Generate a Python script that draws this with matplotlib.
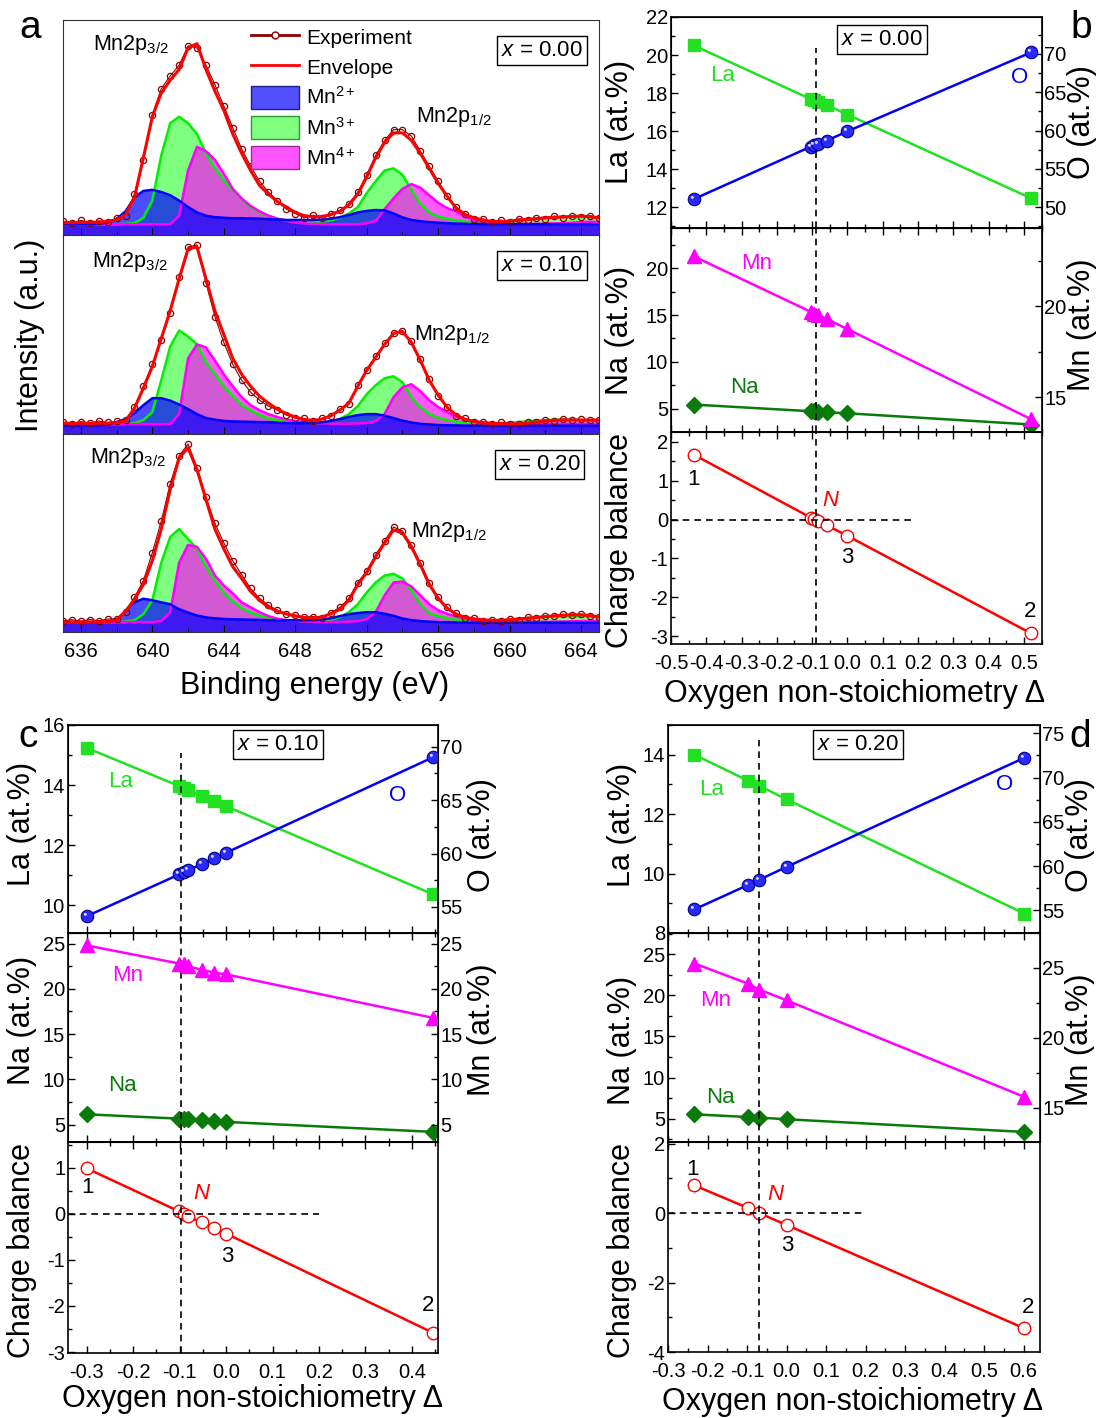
import matplotlib
matplotlib.use("Agg")
import matplotlib.pyplot as plt
import numpy as np
from matplotlib.lines import Line2D
from matplotlib.patches import Patch
from matplotlib.path import Path
from matplotlib.ticker import MultipleLocator, FormatStrFormatter

plt.rcParams["font.family"] = ["Liberation Sans", "DejaVu Sans"]
plt.rcParams["mathtext.fontset"] = "custom"
plt.rcParams["mathtext.rm"] = "Liberation Sans"
plt.rcParams["mathtext.it"] = "Liberation Sans:italic"
plt.rcParams["mathtext.bf"] = "Liberation Sans:bold"
plt.rcParams["axes.unicode_minus"] = False

W, H = 1103, 1418

# ---- Mn2p XPS spectra (binding energy grid, 0.5 eV) ----
energy = np.arange(635.0, 665.01, 0.5)

exp_000 = [
    6.5, 5.5, 6.8, 5.6, 6.6, 6.0, 7.8, 9.0, 19.0, 35.0,
    56.0, 68.0, 74.0, 79.0, 88.0, 87.0, 79.0, 70.0, 60.0, 50.0,
    40.0, 32.0, 25.0, 20.0, 16.0, 12.0, 10.0, 8.0, 9.2, 8.0,
    10.0, 11.5, 14.5, 20.0, 28.0, 37.0, 44.0, 49.0, 49.0, 46.0,
    39.0, 32.0, 25.0, 18.0, 13.0, 10.0, 7.5, 7.5, 6.0, 7.0,
    6.0, 7.5, 6.8, 8.0, 7.5, 8.8, 8.0, 9.0, 8.5, 9.0, 8.0,
]
env_000 = [
    5.8, 5.8, 5.9, 5.9, 6.0, 6.3, 7.0, 9.5, 17.5, 36.0,
    55.0, 66.0, 72.0, 77.0, 87.0, 89.0, 77.0, 67.0, 58.0, 47.0,
    38.0, 30.0, 23.0, 19.0, 15.5, 13.0, 10.5, 9.0, 8.5, 8.6,
    9.5, 11.0, 14.0, 19.0, 27.0, 36.0, 43.0, 47.5, 47.5, 44.0,
    38.0, 31.0, 24.0, 18.0, 12.5, 9.5, 8.0, 7.0, 6.3, 6.2,
    6.5, 7.0, 7.3, 7.6, 8.0, 8.2, 8.4, 8.6, 8.8, 8.5, 8.0,
]
mn2_000 = [
    5.0, 5.0, 5.0, 5.0, 5.2, 5.8, 7.5, 11.0, 17.5, 20.5,
    21.0, 20.0, 18.5, 16.0, 13.0, 10.5, 9.0, 8.3, 8.0, 7.8,
    7.8, 7.7, 7.6, 7.4, 7.2, 7.0, 7.0, 7.0, 7.0, 7.2,
    7.6, 8.3, 9.3, 10.5, 11.2, 11.6, 11.5, 10.0, 8.2, 7.0,
    6.4, 6.0, 5.7, 5.5, 5.3, 5.2, 5.1, 5.0, 5.0, 5.0,
    5.0, 5.0, 5.0, 5.0, 5.0, 5.0, 5.0, 5.0, 5.0, 5.0, 5.0,
]
mn3_000 = [
    5.0, 5.0, 5.0, 5.0, 5.0, 5.0, 5.0, 5.2, 5.5, 8.0,
    16.0, 37.0, 52.0, 55.0, 52.0, 47.0, 38.0, 31.0, 25.5, 21.0,
    16.5, 13.0, 10.5, 8.8, 7.5, 6.7, 6.2, 6.0, 6.0, 6.2,
    6.8, 8.0, 10.0, 13.0, 19.5, 25.0, 30.0, 31.0, 28.0, 21.0,
    14.5, 10.5, 8.5, 7.5, 6.8, 6.2, 5.8, 5.7, 5.7, 5.8,
    6.0, 6.5, 7.0, 7.5, 8.0, 8.3, 8.4, 8.5, 8.4, 8.2, 8.0,
]
mn4_000 = [
    5.0, 5.0, 5.0, 5.0, 5.0, 5.0, 5.0, 5.0, 5.0, 5.0,
    5.0, 5.0, 5.0, 9.0, 30.0, 41.0, 39.0, 35.0, 28.5, 21.5,
    17.0, 13.5, 11.0, 9.0, 7.6, 6.6, 5.8, 5.4, 5.2, 5.1,
    5.0, 5.0, 5.0, 5.0, 5.5, 6.5, 12.0, 17.0, 21.5, 23.7,
    22.0, 18.5, 15.0, 12.5, 11.0, 8.5, 7.0, 6.0, 5.5, 5.3,
    5.2, 5.2, 5.2, 5.2, 5.3, 5.4, 5.5, 5.7, 6.0, 6.2, 6.0,
]

exp_010 = [
    6.0, 5.2, 6.2, 5.5, 6.5, 5.8, 6.3, 7.0, 13.5, 24.0,
    35.0, 47.0, 61.0, 79.0, 94.0, 95.0, 76.0, 59.0, 46.0, 35.0,
    27.0, 21.0, 17.0, 14.0, 12.0, 9.5, 8.0, 7.8, 6.3, 7.8,
    9.0, 12.5, 15.0, 24.5, 32.0, 39.0, 45.5, 51.0, 52.0, 46.5,
    37.5, 27.5, 19.0, 13.5, 9.0, 7.8, 5.8, 6.0, 5.0, 5.8,
    5.2, 4.8, 5.8, 6.0, 7.0, 6.5, 7.5, 7.0, 7.3, 6.8, 7.2,
]
env_010 = [
    5.4, 5.4, 5.4, 5.4, 5.4, 5.4, 5.7, 6.5, 13.0, 23.0,
    34.0, 48.0, 62.0, 78.0, 93.0, 94.0, 78.0, 62.0, 50.0, 38.0,
    30.0, 24.0, 19.0, 15.5, 12.5, 10.2, 8.5, 7.3, 6.8, 7.5,
    9.2, 12.0, 15.5, 24.0, 32.0, 38.5, 45.0, 50.5, 51.5, 46.0,
    37.0, 27.0, 19.5, 13.4, 9.5, 7.4, 6.3, 5.5, 5.3, 5.1,
    5.0, 5.0, 5.5, 6.0, 6.5, 6.8, 7.0, 7.0, 7.0, 7.0, 7.0,
]
mn2_010 = [
    4.2, 4.2, 4.2, 4.2, 4.3, 4.8, 6.0, 7.5, 10.5, 14.5,
    18.0, 18.0, 16.8, 14.8, 12.5, 10.0, 8.0, 7.2, 6.6, 6.3,
    6.2, 6.1, 6.0, 5.9, 5.7, 5.5, 5.4, 5.4, 5.5, 5.9,
    6.5, 7.5, 8.6, 9.5, 10.0, 10.0, 9.2, 8.0, 6.7, 5.8,
    5.1, 4.8, 4.5, 4.4, 4.3, 4.2, 4.2, 4.2, 4.2, 4.2,
    4.2, 4.2, 4.2, 4.2, 4.2, 4.2, 4.2, 4.2, 4.2, 4.2, 4.2,
]
mn3_010 = [
    5.0, 5.0, 5.0, 5.0, 5.0, 5.0, 5.0, 5.0, 5.5, 7.0,
    11.0, 27.0, 44.0, 52.0, 49.0, 45.0, 36.0, 30.0, 24.0, 19.0,
    14.5, 11.8, 9.5, 7.8, 7.0, 6.2, 5.9, 5.6, 5.5, 5.6,
    6.3, 7.5, 10.0, 14.0, 20.0, 24.5, 28.0, 29.0, 26.0, 18.5,
    13.5, 10.0, 8.2, 7.0, 6.2, 5.8, 5.5, 5.4, 5.4, 5.5,
    5.7, 6.0, 6.4, 6.8, 7.0, 7.2, 7.3, 7.2, 7.0, 6.8, 6.8,
]
mn4_010 = [
    5.0, 5.0, 5.0, 5.0, 5.0, 5.0, 5.0, 5.0, 5.0, 5.0,
    5.0, 5.0, 5.0, 10.0, 38.0, 45.0, 43.5, 37.0, 30.0, 24.0,
    18.5, 14.5, 12.0, 10.0, 8.5, 7.3, 6.5, 6.0, 5.6, 5.4,
    5.2, 5.2, 5.2, 5.3, 5.5, 6.5, 10.0, 18.5, 23.5, 25.0,
    21.5, 17.0, 13.5, 11.0, 8.7, 7.3, 6.5, 5.9, 5.5, 5.3,
    5.2, 5.2, 5.2, 5.2, 5.2, 5.2, 5.2, 5.2, 5.2, 5.2, 5.2,
]

exp_020 = [
    5.6, 6.2, 5.4, 6.3, 5.7, 6.5, 6.8, 10.0, 17.5, 26.0,
    40.0, 56.0, 75.0, 89.0, 95.0, 83.0, 68.0, 55.0, 45.0, 36.0,
    29.0, 22.0, 17.0, 13.5, 11.0, 9.0, 8.5, 7.5, 7.8, 7.2,
    9.8, 12.5, 17.0, 25.0, 31.0, 39.0, 46.0, 53.0, 51.0, 44.0,
    35.0, 25.0, 17.5, 12.5, 9.5, 7.2, 7.0, 5.8, 6.3, 5.5,
    6.5, 6.2, 7.4, 7.0, 8.2, 8.0, 8.9, 8.4, 9.0, 8.0, 7.8,
]
env_020 = [
    5.0, 5.0, 5.0, 5.0, 5.1, 5.4, 5.9, 10.5, 16.5, 24.0,
    36.0, 52.0, 72.0, 88.0, 93.0, 82.0, 67.0, 52.0, 42.0, 33.0,
    27.0, 20.5, 16.0, 12.5, 10.5, 9.1, 8.1, 7.3, 7.0, 7.6,
    9.2, 11.5, 16.0, 24.0, 30.0, 38.0, 45.0, 51.5, 50.0, 43.0,
    34.0, 24.0, 17.0, 12.0, 9.0, 7.5, 6.6, 6.1, 5.9, 5.9,
    6.2, 6.6, 7.0, 7.4, 7.8, 8.2, 8.5, 8.7, 8.7, 8.3, 7.6,
]
mn2_020 = [
    5.0, 5.0, 5.0, 5.0, 5.1, 5.4, 6.2, 10.5, 15.0, 16.8,
    16.0, 15.0, 14.0, 11.5, 9.8, 8.3, 7.4, 6.9, 6.6, 6.4,
    6.3, 6.2, 6.1, 6.0, 5.9, 5.9, 5.9, 5.9, 6.0, 6.3,
    7.0, 8.0, 9.0, 9.6, 10.0, 10.0, 9.2, 8.2, 6.8, 6.0,
    5.5, 5.2, 5.0, 4.9, 4.8, 4.7, 4.7, 4.7, 4.7, 4.7,
    4.7, 4.7, 4.7, 4.7, 4.7, 4.7, 4.7, 4.7, 4.7, 4.7, 4.7,
]
mn3_020 = [
    5.0, 5.0, 5.0, 5.0, 5.0, 5.0, 5.0, 5.2, 6.0, 9.0,
    16.0, 35.0, 48.0, 52.0, 47.0, 42.0, 33.0, 26.0, 20.0, 15.5,
    12.0, 9.8, 8.2, 7.2, 6.5, 6.0, 5.7, 5.5, 5.5, 5.7,
    6.3, 7.5, 10.0, 14.0, 20.0, 25.0, 28.5, 29.4, 27.0, 21.0,
    14.0, 9.5, 8.0, 7.0, 6.3, 5.9, 5.7, 5.6, 5.6, 5.8,
    6.1, 6.5, 7.0, 7.3, 7.6, 7.8, 7.9, 8.0, 8.0, 7.8, 7.6,
]
mn4_020 = [
    5.0, 5.0, 5.0, 5.0, 5.0, 5.0, 5.0, 5.0, 5.0, 5.0,
    5.0, 5.5, 10.0, 35.0, 44.0, 43.0, 37.0, 28.6, 23.5, 19.5,
    15.0, 12.5, 10.0, 8.0, 6.7, 6.0, 5.6, 5.4, 5.2, 5.1,
    5.1, 5.1, 5.2, 5.5, 6.5, 10.0, 18.5, 25.0, 25.5, 23.0,
    18.5, 14.0, 11.0, 9.2, 7.8, 6.7, 6.0, 5.5, 5.3, 5.2,
    5.2, 5.2, 5.2, 5.2, 5.2, 5.2, 5.3, 5.4, 5.5, 5.6, 5.6,
]

# ---- composition vs oxygen non-stoichiometry ----
delta_000 = [-0.436, -0.104, -0.095, -0.082, -0.058, 0.0, 0.521]
la_000 = [20.51, 17.68, 17.64, 17.55, 17.36, 16.87, 12.46]
o_000 = [51.05, 57.9, 58.1, 58.3, 58.7, 59.9, 70.2]
mn_000 = [22.75, 19.7, 19.6, 19.5, 19.3, 18.75, 13.8]
na_000 = [5.43, 4.72, 4.70, 4.68, 4.60, 4.50, 3.30]
cb_000 = [1.67, 0.05, 0.02, -0.03, -0.15, -0.42, -2.93]
n_000 = -0.09

delta_010 = [-0.30, -0.101, -0.091, -0.082, -0.052, -0.026, 0.0, 0.445]
la_010 = [15.24, 13.97, 13.92, 13.83, 13.63, 13.48, 13.30, 10.37]
o_010 = [54.13, 58.04, 58.3, 58.44, 59.0, 59.54, 60.07, 69.0]
mn_010 = [24.8, 22.8, 22.7, 22.5, 22.1, 21.8, 21.6, 16.8]
na_010 = [6.14, 5.66, 5.60, 5.60, 5.50, 5.45, 5.30, 4.20]
cb_010 = [0.985, 0.05, 0.0, -0.06, -0.19, -0.31, -0.43, -2.58]
n_010 = -0.096

delta_020 = [-0.233, -0.098, -0.069, 0.0, 0.602]
la_020 = [14.0, 13.13, 12.95, 12.5, 8.65]
o_020 = [55.1, 57.85, 58.45, 59.9, 72.24]
mn_020 = [25.29, 23.86, 23.43, 22.66, 15.76]
na_020 = [5.52, 5.19, 5.12, 4.92, 3.37]
cb_020 = [0.80, 0.15, 0.0, -0.34, -3.32]
n_020 = -0.069

C_LA = "#22e022"
C_O = "#0000ff"
C_MN = "#ff00ff"
C_NA = "#0a7a0a"
C_CB = "#ff0000"

# small light spot drawn on top of the O markers
_spot = Path.make_compound_path(
    Path.circle((-0.17, 0.17), 0.12),
    Path([(-0.5, -0.5), (0.5, 0.5)], [Path.MOVETO, Path.MOVETO]),
)


def rect(l, t, r, b):
    return [l / W, 1 - b / H, (r - l) / W, (b - t) / H]


def spectrum(ax, exp, env, mn2, mn3, mn4):
    ax.fill_between(energy, mn3, 0, color=(0, 1, 0), alpha=0.5, lw=0)
    ax.plot(energy, mn3, color="#00f000", lw=1.8)
    ax.fill_between(energy, mn4, 0, color=(1, 0, 1), alpha=0.65, lw=0)
    ax.plot(energy, mn4, color="#ff00ff", lw=1.8)
    ax.fill_between(energy, mn2, 0, color=(0, 0, 1), alpha=0.7, lw=0)
    ax.plot(energy, mn2, color="#0000ff", lw=1.8)
    ax.plot(energy, exp, color="#8b0000", lw=0.8, marker="o", ms=4.5,
            mfc="none", mew=0.9)
    ax.plot(energy, env, color="#ff0000", lw=2.2)
    ax.set_xlim(635, 665)
    ax.set_ylim(0, 100)
    ax.set_yticks([])
    ax.xaxis.set_major_locator(MultipleLocator(4))
    ax.xaxis.set_minor_locator(MultipleLocator(2))
    ax.tick_params(axis="x", which="both", direction="in", labelsize=14.5,
                   pad=7)
    ax.tick_params(axis="x", which="major", length=5)
    ax.tick_params(axis="x", which="minor", length=3)
    for s in ax.spines.values():
        s.set_color("#333333")


def style_x(ax, lim, labels, top):
    ax.set_xlim(*lim)
    ax.xaxis.set_major_locator(MultipleLocator(0.1))
    ax.xaxis.set_minor_locator(MultipleLocator(0.05))
    ax.xaxis.set_major_formatter(FormatStrFormatter("%.1f"))
    ax.tick_params(axis="x", which="both", direction="in", top=top,
                   bottom=True, labelbottom=labels, labelsize=14.5, width=1,
                   pad=7.5)
    ax.tick_params(axis="x", which="major", length=5)
    ax.tick_params(axis="x", which="minor", length=3)
    for s in ax.spines.values():
        s.set_linewidth(1.2)


def style_y(ax, lim, major, minor, right=False):
    ax.set_ylim(*lim)
    ax.yaxis.set_major_locator(MultipleLocator(major))
    ax.yaxis.set_minor_locator(MultipleLocator(minor))
    ax.yaxis.set_major_formatter(FormatStrFormatter("%d"))
    ax.tick_params(axis="y", which="both", direction="in", left=not right,
                   right=right, labelleft=not right, labelright=right,
                   labelsize=14.5, width=1, pad=2)
    ax.tick_params(axis="y", which="major", length=5)
    ax.tick_params(axis="y", which="minor", length=3)


def balls(ax, x, y):
    ax.plot(x, y, color=C_O, lw=1.8, marker="o", ms=9, mfc="#2a2aff",
            mec="#00008a", mew=0.8)
    ax.plot(x, y, ls="none", marker=_spot, ms=9, mfc="#d8d8ff", mec="none")


def ftext(x, y, s, **kw):
    fig.text(x / W, 1 - y / H, s, ha="center", va="center", **kw)


def composition(rows, delta, la, o, mn, na, cb, n_pos, lims, marks):
    ax_t = fig.add_axes(rect(*rows[0]))
    ax_m = fig.add_axes(rect(*rows[1]))
    ax_b = fig.add_axes(rect(*rows[2]))
    ax_o = ax_t.twinx()
    ax_mn = ax_m.twinx()

    ax_t.plot(delta, la, color=C_LA, lw=1.8, marker="s", ms=8)
    balls(ax_o, delta, o)
    ax_m.plot(delta, na, color=C_NA, lw=1.8, marker="D", ms=8)
    ax_mn.plot(delta, mn, color=C_MN, lw=1.8, marker="^", ms=10)
    ax_b.plot(delta, cb, color=C_CB, lw=1.8, marker="o", ms=9,
              mfc="white", mec=C_CB, mew=1.0)

    style_x(ax_t, lims["x"], False, False)
    style_x(ax_m, lims["x"], False, True)
    style_x(ax_b, lims["x"], True, True)
    style_y(ax_t, lims["la"], 2, 1)
    style_y(ax_o, lims["o"], 5, 2.5, right=True)
    style_y(ax_m, lims["na"], 5, 2.5)
    style_y(ax_mn, lims["mn"], 5, 2.5, right=True)
    style_y(ax_b, lims["cb"], lims["cb_major"], lims["cb_minor"])

    dash = dict(color="black", lw=1.2, ls=(0, (4, 3)))
    ax_t.axvline(n_pos, ymax=lims["vtop"], **dash)
    ax_m.axvline(n_pos, **dash)
    ax_b.axvline(n_pos, **dash)
    ax_b.plot([lims["x"][0], lims["hend"]], [0, 0], **dash)

    ax_t.text(*marks["La"], "La", color=C_LA, fontsize=16,
              transform=ax_t.transAxes, ha="center", va="center")
    ax_t.text(*marks["O"], "O", color=C_O, fontsize=16,
              transform=ax_t.transAxes, ha="center", va="center")
    ax_t.text(*marks["box"], marks["xval"], fontsize=16,
              transform=ax_t.transAxes, ha="center", va="center",
              bbox=dict(boxstyle="square,pad=0.18", fc="white", ec="black",
                        lw=1))
    ax_m.text(*marks["Mn"], "Mn", color=C_MN, fontsize=16,
              transform=ax_m.transAxes, ha="center", va="center")
    ax_m.text(*marks["Na"], "Na", color=C_NA, fontsize=16,
              transform=ax_m.transAxes, ha="center", va="center")
    for key in ("1", "2", "3"):
        ax_b.text(*marks[key], key, fontsize=16, transform=ax_b.transAxes,
                  ha="center", va="center")
    ax_b.text(*marks["N"], "N", color=C_CB, fontsize=16, style="italic",
              transform=ax_b.transAxes, ha="center", va="center")


fig = plt.figure(figsize=(W / 100, H / 100), dpi=100)

# ---- panel a ----
spec_rows = [(63, 20, 599, 235), (63, 235, 599, 434), (63, 434, 599, 632)]
spec_data = [
    (exp_000, env_000, mn2_000, mn3_000, mn4_000),
    (exp_010, env_010, mn2_010, mn3_010, mn4_010),
    (exp_020, env_020, mn2_020, mn3_020, mn4_020),
]
spec_text = [
    ((0.056, 0.884), (0.658, 0.549), (0.893, 0.860), "$x$ = 0.00"),
    ((0.054, 0.864), (0.654, 0.497), (0.893, 0.849), "$x$ = 0.10"),
    ((0.050, 0.879), (0.650, 0.505), (0.889, 0.848), "$x$ = 0.20"),
]
spec_axes = []
for row, data, txt in zip(spec_rows, spec_data, spec_text):
    ax = fig.add_axes(rect(*row))
    spectrum(ax, *data)
    ax.text(*txt[0], "Mn2p$_{3/2}$", fontsize=15.5, transform=ax.transAxes,
            ha="left", va="center")
    ax.text(*txt[1], "Mn2p$_{1/2}$", fontsize=15.5, transform=ax.transAxes,
            ha="left", va="center")
    ax.text(*txt[2], txt[3], fontsize=16, transform=ax.transAxes,
            ha="center", va="center",
            bbox=dict(boxstyle="square,pad=0.18", fc="white", ec="black", lw=1))
    spec_axes.append(ax)
for ax in spec_axes[:2]:
    ax.tick_params(axis="x", labelbottom=False)

handles = [
    Line2D([], [], color="#8b0000", lw=2, marker="o", ms=5, mfc="white",
           mec="#8b0000"),
    Line2D([], [], color="#ff0000", lw=2),
    Patch(facecolor="#5050ff", edgecolor="#20208c", lw=1),
    Patch(facecolor="#80ff80", edgecolor="#2a9a2a", lw=1),
    Patch(facecolor="#ff55ff", edgecolor="#9a2a9a", lw=1),
]
labels = ["Experiment", "Envelope", "Mn$^{2+}$", "Mn$^{3+}$", "Mn$^{4+}$"]
spec_axes[0].legend(handles, labels, loc="upper left",
                    bbox_to_anchor=(0.35, 0.975), frameon=False, fontsize=15,
                    handlelength=2.3, handleheight=1.3, handletextpad=0.35,
                    labelspacing=0.36, borderpad=0, borderaxespad=0)

ftext(30, 335, "Intensity (a.u.)", fontsize=22, rotation=90)
ftext(315, 686, "Binding energy (eV)", fontsize=22)
ftext(30, 28, "a", fontsize=28)

# ---- panel b ----
composition(
    [(671, 17, 1041.5, 228), (671, 228, 1041.5, 432), (671, 432, 1041.5, 644)],
    delta_000, la_000, o_000, mn_000, na_000, cb_000, n_000,
    dict(x=(-0.5, 0.55), la=(10.9, 22), o=(47.3, 74.8), na=(2.5, 24.3),
         mn=(13.1, 24.3), cb=(-3.2, 2.25), cb_major=1, cb_minor=0.5,
         vtop=0.853, hend=0.185),
    {"La": (0.138, 0.725), "O": (0.942, 0.711), "box": (0.569, 0.891),
     "xval": "$x$ = 0.00", "Mn": (0.232, 0.828), "Na": (0.197, 0.216),
     "1": (0.062, 0.774), "N": (0.429, 0.679), "3": (0.475, 0.406),
     "2": (0.969, 0.151)},
)
ftext(620, 122, "La (at.%)", fontsize=22, rotation=90)
ftext(620, 330, "Na (at.%)", fontsize=22, rotation=90)
ftext(620, 540, "Charge balance", fontsize=22, rotation=90)
ftext(1082, 122, "O (at.%)", fontsize=22, rotation=90)
ftext(1082, 325, "Mn (at.%)", fontsize=22, rotation=90)
ftext(855, 694, "Oxygen non-stoichiometry Δ", fontsize=22)
ftext(1081, 28, "b", fontsize=28)

# ---- panel c ----
composition(
    [(68, 725, 437.5, 933), (68, 933, 437.5, 1142), (68, 1142, 437.5, 1353)],
    delta_010, la_010, o_010, mn_010, na_010, cb_010, n_010,
    dict(x=(-0.34, 0.455), la=(9.08, 16), o=(52.56, 72.03), na=(3.08, 26.17),
         mn=(3.08, 26.17), cb=(-3.02, 1.555), cb_major=1, cb_minor=0.5,
         vtop=0.865, hend=0.2),
    {"La": (0.141, 0.726), "O": (0.893, 0.663), "box": (0.568, 0.904),
     "xval": "$x$ = 0.10", "Mn": (0.162, 0.799), "Na": (0.146, 0.268),
     "1": (0.054, 0.782), "N": (0.36, 0.758), "3": (0.43, 0.455),
     "2": (0.974, 0.223)},
)
ftext(22, 824, "La (at.%)", fontsize=22, rotation=90)
ftext(22, 1020, "Na (at.%)", fontsize=22, rotation=90)
ftext(22, 1250, "Charge balance", fontsize=22, rotation=90)
ftext(482, 835, "O (at.%)", fontsize=22, rotation=90)
ftext(482, 1030, "Mn (at.%)", fontsize=22, rotation=90)
ftext(253, 1399, "Oxygen non-stoichiometry Δ", fontsize=22)
ftext(28, 737, "c", fontsize=28)

# ---- panel d ----
composition(
    [(668, 725, 1039.5, 933), (668, 933, 1039.5, 1142), (668, 1142, 1039.5, 1352)],
    delta_020, la_020, o_020, mn_020, na_020, cb_020, n_020,
    dict(x=(-0.3, 0.64), la=(8, 15), o=(52.43, 75.94), na=(2.15, 27.6),
         mn=(12.54, 27.47), cb=(-4, 2.05), cb_major=2, cb_minor=1,
         vtop=0.928, hend=0.19),
    {"La": (0.118, 0.688), "O": (0.907, 0.712), "box": (0.511, 0.904),
     "xval": "$x$ = 0.20", "Mn": (0.127, 0.679), "Na": (0.14, 0.215),
     "1": (0.067, 0.867), "N": (0.288, 0.748), "3": (0.32, 0.505),
     "2": (0.969, 0.214)},
)
ftext(622, 825, "La (at.%)", fontsize=22, rotation=90)
ftext(622, 1040, "Na (at.%)", fontsize=22, rotation=90)
ftext(622, 1250, "Charge balance", fontsize=22, rotation=90)
ftext(1080, 835, "O (at.%)", fontsize=22, rotation=90)
ftext(1080, 1040, "Mn (at.%)", fontsize=22, rotation=90)
ftext(853, 1402, "Oxygen non-stoichiometry Δ", fontsize=22)
ftext(1080, 737, "d", fontsize=28)

fig.savefig("out.png", dpi=100)
